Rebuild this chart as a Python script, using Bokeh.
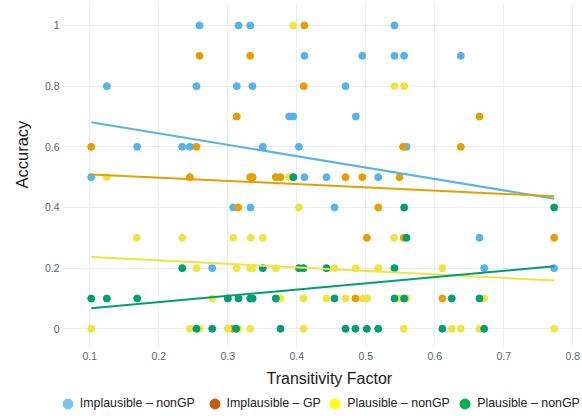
import math
from bokeh.plotting import figure
from bokeh.layouts import column
from bokeh.models import Range1d, FixedTicker, Legend, LegendItem, Title
from bokeh.embed import file_html
from bokeh.resources import INLINE

# ---------------- data ----------------
series_names = ["Implausible \u2013 nonGP", "Implausible \u2013 GP",
                "Plausible \u2013 nonGP", "Plausible \u2013 nonGP"]

impl_nongp_x = [0.259, 0.3155, 0.3325, 0.5416,
                0.411, 0.495, 0.5416, 0.5555, 0.6377,
                0.1247, 0.2546, 0.313, 0.3358, 0.4706,
                0.389, 0.395, 0.4855,
                0.1687, 0.234, 0.245, 0.3507, 0.403, 0.559,
                0.102, 0.411, 0.443, 0.518,
                0.3078, 0.3329, 0.4546,
                0.6648,
                0.2774, 0.6716, 0.773]
impl_nongp_y = [1.0, 1.0, 1.0, 1.0,
                0.9, 0.9, 0.9, 0.9, 0.9,
                0.8, 0.8, 0.8, 0.8, 0.8,
                0.7, 0.7, 0.7,
                0.6, 0.6, 0.6, 0.6, 0.6, 0.6,
                0.5, 0.5, 0.5, 0.5,
                0.4, 0.4, 0.4,
                0.3,
                0.2, 0.2, 0.2]

impl_gp_x = [0.411,
             0.259, 0.3325,
             0.410,
             0.313, 0.6648,
             0.102, 0.2546, 0.554, 0.6377,
             0.245, 0.3325, 0.336, 0.3696, 0.3764, 0.4706, 0.495, 0.5488,
             0.315, 0.518,
             0.5015, 0.555, 0.773,
             0.485, 0.611,
             0.307]
impl_gp_y = [1.0,
             0.9, 0.9,
             0.8,
             0.7, 0.7,
             0.6, 0.6, 0.6, 0.6,
             0.5, 0.5, 0.5, 0.5, 0.5, 0.5, 0.5, 0.5,
             0.4, 0.4,
             0.3, 0.3, 0.3,
             0.1, 0.1,
             0.0]

plaus_nongp_x = [0.395,
                 0.5416, 0.5556,
                 0.1247, 0.389,
                 0.403,
                 0.168, 0.234, 0.308, 0.3333, 0.3507, 0.541,
                 0.2546, 0.313, 0.3325, 0.336, 0.3696, 0.4546, 0.4855, 0.518, 0.611,
                 0.2774, 0.3764, 0.4097, 0.443, 0.4706, 0.496, 0.502, 0.549, 0.559, 0.6716,
                 0.102, 0.245, 0.259, 0.300, 0.3155, 0.3325, 0.4097, 0.555, 0.6246, 0.6377, 0.6648, 0.773]
plaus_nongp_y = [1.0,
                 0.8, 0.8,
                 0.5, 0.5,
                 0.4,
                 0.3, 0.3, 0.3, 0.3, 0.3, 0.3,
                 0.2, 0.2, 0.2, 0.2, 0.2, 0.2, 0.2, 0.2, 0.2,
                 0.1, 0.1, 0.1, 0.1, 0.1, 0.1, 0.1, 0.1, 0.1, 0.1,
                 0.0, 0.0, 0.0, 0.0, 0.0, 0.0, 0.0, 0.0, 0.0, 0.0, 0.0, 0.0]

plaus_nongp2_x = [0.395,
                  0.5556, 0.773,
                  0.559,
                  0.234, 0.3507, 0.403, 0.4097, 0.443, 0.5416,
                  0.102, 0.1247, 0.1687, 0.300, 0.3155, 0.3325, 0.336, 0.3696, 0.4546, 0.5416, 0.5556, 0.6246, 0.6648,
                  0.2546, 0.2774, 0.312, 0.3764, 0.4706, 0.485, 0.5015, 0.518, 0.611, 0.6716]
plaus_nongp2_y = [0.5,
                  0.4, 0.4,
                  0.3,
                  0.2, 0.2, 0.2, 0.2, 0.2, 0.2,
                  0.1, 0.1, 0.1, 0.1, 0.1, 0.1, 0.1, 0.1, 0.1, 0.1, 0.1, 0.1, 0.1,
                  0.0, 0.0, 0.0, 0.0, 0.0, 0.0, 0.0, 0.0, 0.0, 0.0]

# trend line values at the smallest and largest transitivity factor
trend_impl_nongp = [0.681, 0.429]
trend_impl_gp = [0.509, 0.437]
trend_plaus_nongp = [0.237, 0.159]
trend_plaus_nongp2 = [0.068, 0.206]

x_ticks = [0.1, 0.2, 0.3, 0.4, 0.5, 0.6, 0.7, 0.8]
x_tick_labels = ["0.1", "0.2", "0.3", "0.4", "0.5", "0.6", "0.7", "0.8"]
y_ticks = [0.0, 0.2, 0.4, 0.6, 0.8, 1.0]
y_tick_labels = ["0", "0.2", "0.4", "0.6", "0.8", "1"]

series_colors = ["#56B4E9", "#E69F00", "#F0E442", "#009E73"]
legend_colors = ["#7DC6EA", "#C55A11", "#FFFF00", "#00B050"]

# ---------------- main figure ----------------
FONT = "Liberation Sans"
fig = figure(width=582, height=394, output_backend="svg", toolbar_location=None,
             x_range=Range1d(0.0604, 0.8141), y_range=Range1d(-0.0617, 1.0725),
             min_border_left=62, min_border_right=0, min_border_top=3,
             min_border_bottom=47)
fig.outline_line_color = None
fig.background_fill_color = "white"
fig.border_fill_color = "white"

for ax, ticks, labels in ((fig.xaxis[0], x_ticks, x_tick_labels),
                          (fig.yaxis[0], y_ticks, y_tick_labels)):
    ax.ticker = FixedTicker(ticks=ticks)
    ax.major_label_overrides = {t: l for t, l in zip(ticks, labels)}
    ax.axis_line_color = None
    ax.major_tick_line_color = None
    ax.minor_tick_line_color = None
    ax.major_tick_out = 0
    ax.major_tick_in = 0
    ax.major_label_text_font = FONT
    ax.major_label_text_font_size = "10.5px"
    ax.major_label_text_color = "#5b6577"
fig.xaxis.major_label_standoff = 4
fig.yaxis.major_label_standoff = 3

fig.xgrid.ticker = FixedTicker(ticks=x_ticks)
fig.ygrid.ticker = FixedTicker(ticks=y_ticks)
fig.grid.grid_line_color = "#E8EDF6"
fig.grid.grid_line_width = 1

series = [(impl_nongp_x, impl_nongp_y, trend_impl_nongp),
          (impl_gp_x, impl_gp_y, trend_impl_gp),
          (plaus_nongp_x, plaus_nongp_y, trend_plaus_nongp),
          (plaus_nongp2_x, plaus_nongp2_y, trend_plaus_nongp2)]

all_x = impl_nongp_x + impl_gp_x + plaus_nongp_x + plaus_nongp2_x
x_lo, x_hi = min(all_x), max(all_x)

for (xs, ys, tr), col in zip(series, series_colors):
    fig.scatter(xs, ys, size=7, color=col, line_color=col)
for (xs, ys, tr), col in zip(series, series_colors):
    fig.line([x_lo, x_hi], tr, line_color=col, line_width=2)

# axis titles
fig.add_layout(Title(text="Transitivity Factor", align="left", offset=204,
                     standoff=10, text_font=FONT, text_font_size="16px",
                     text_font_style="normal", text_color="#1a1a1a"), "below")
fig.add_layout(Title(text="Accuracy", align="left", offset=159,
                     standoff=19, vertical_align="middle",
                     text_font=FONT, text_font_size="16.5px",
                     text_font_style="normal", text_color="#1a1a1a"), "left")

# ---------------- legend strip ----------------
leg_fig = figure(width=582, height=22, output_backend="svg", toolbar_location=None,
                 x_range=Range1d(0, 1), y_range=Range1d(2, 3),
                 x_axis_location=None, y_axis_location=None,
                 min_border=0, min_border_left=0, min_border_right=0,
                 min_border_top=0, min_border_bottom=0)
leg_fig.grid.visible = False
leg_fig.outline_line_color = None

legend_vx = [-7.2, 139.5, 260.2, 390.2]
for (xs, ys, tr), name, col, vx in zip(series, series_names, legend_colors, legend_vx):
    # renderer only feeds the legend swatch; its points lie outside this strip's view
    r = leg_fig.scatter(xs, ys, size=10, color=col, line_color=col)
    leg = Legend(items=[LegendItem(label=name, renderers=[r])],
                 location=(vx, 0.5), orientation="horizontal",
                 glyph_width=25, glyph_height=25, label_height=25,
                 label_standoff=0, padding=0, margin=0, spacing=0,
                 border_line_color=None, background_fill_alpha=0,
                 label_text_font=FONT, label_text_font_size="12.4px",
                 label_text_color="#222222")
    leg_fig.add_layout(leg, "center")

p = column(fig, leg_fig, spacing=0)
open("out.html", "w").write(file_html(p, INLINE))
